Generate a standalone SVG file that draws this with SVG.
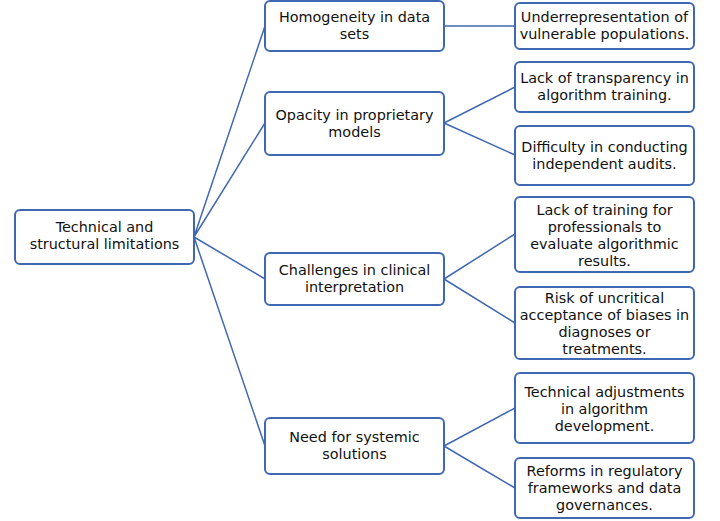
<svg xmlns="http://www.w3.org/2000/svg" width="720" height="521" viewBox="0 0 720 521">
<style>
.box{fill:#fff;stroke:#4068B2;stroke-width:2}
.t{font-family:"DejaVu Sans","Liberation Sans",sans-serif;font-size:14.4px;fill:#111;text-anchor:middle}
.c{fill:none;stroke:#4068B2;stroke-width:1.5}
</style>
<rect width="720" height="521" fill="#fff"/>
<g id="connectors">
<path class="c" d="M194 237L265 26M194 237L265 123M194 237L265 279M194 237L265 446"/>
<path class="c" d="M444 26L515 26M444 123L515 87M444 123L515 155M444 279L515 234M444 279L515 323M444 446L515 408M444 446L515 488"/>
</g>
<g id="root"><rect class="box" x="15" y="210" width="179" height="54" rx="5"/><text class="t" x="104.5" y="232">Technical and</text><text class="t" x="104.5" y="249">structural limitations</text></g>
<g id="n1"><rect class="box" x="265" y="1" width="179" height="50" rx="5"/><text class="t" x="354.5" y="22">Homogeneity in data</text><text class="t" x="354.5" y="39">sets</text></g>
<g id="n2"><rect class="box" x="265" y="92" width="179" height="63" rx="5"/><text class="t" x="354.5" y="120">Opacity in proprietary</text><text class="t" x="354.5" y="137">models</text></g>
<g id="n3"><rect class="box" x="265" y="253" width="179" height="52" rx="5"/><text class="t" x="354.5" y="275">Challenges in clinical</text><text class="t" x="354.5" y="292">interpretation</text></g>
<g id="n4"><rect class="box" x="265" y="418" width="179" height="56" rx="5"/><text class="t" x="354.5" y="442">Need for systemic</text><text class="t" x="354.5" y="459">solutions</text></g>
<g id="n1a"><rect class="box" x="515" y="3" width="179" height="46" rx="5"/><text class="t" x="604.5" y="22">Underrepresentation of</text><text class="t" x="604.5" y="39">vulnerable populations.</text></g>
<g id="n2a"><rect class="box" x="515" y="62" width="179" height="50" rx="5"/><text class="t" x="604.5" y="83">Lack of transparency in</text><text class="t" x="604.5" y="100">algorithm training.</text></g>
<g id="n2b"><rect class="box" x="515" y="126" width="179" height="59" rx="5"/><text class="t" x="604.5" y="152">Difficulty in conducting</text><text class="t" x="604.5" y="169">independent audits.</text></g>
<g id="n3a"><rect class="box" x="515" y="197" width="179" height="75" rx="5"/><text class="t" x="604.5" y="215">Lack of training for</text><text class="t" x="604.5" y="232">professionals to</text><text class="t" x="604.5" y="249">evaluate algorithmic</text><text class="t" x="604.5" y="266">results.</text></g>
<g id="n3b"><rect class="box" x="515" y="287" width="179" height="72" rx="5"/><text class="t" x="604.5" y="303">Risk of uncritical</text><text class="t" x="604.5" y="320">acceptance of biases in</text><text class="t" x="604.5" y="337">diagnoses or</text><text class="t" x="604.5" y="354">treatments.</text></g>
<g id="n4a"><rect class="box" x="515" y="373" width="179" height="70" rx="5"/><text class="t" x="604.5" y="397">Technical adjustments</text><text class="t" x="604.5" y="414">in algorithm</text><text class="t" x="604.5" y="431">development.</text></g>
<g id="n4b"><rect class="box" x="515" y="458" width="179" height="60" rx="5"/><text class="t" x="604.5" y="476">Reforms in regulatory</text><text class="t" x="604.5" y="493">frameworks and data</text><text class="t" x="604.5" y="510">governances.</text></g>
</svg>
